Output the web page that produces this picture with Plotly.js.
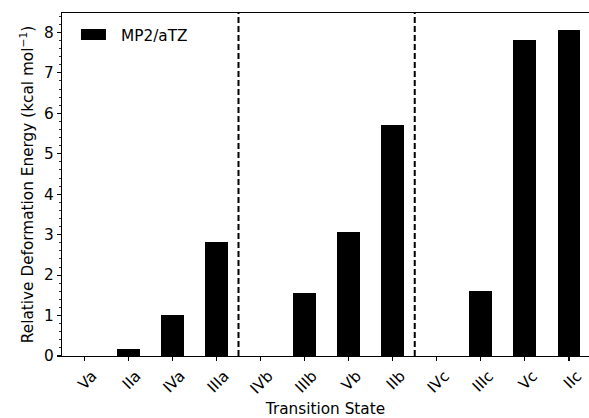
<!DOCTYPE html>
<html>
<head>
<meta charset="utf-8">
<script src="https://cdn.plot.ly/plotly-3.0.1.min.js"></script>
<style>html,body{margin:0;padding:0;background:#fff;}#chart{width:589px;height:418px;}</style>
</head>
<body>
<div id="chart"></div>
<script>
const categories = ["Va","IIa","IVa","IIIa","IVb","IIIb","Vb","IIb","IVc","IIIc","Vc","IIc"];
const energies = [0, 0.17, 1.01, 2.82, 0, 1.56, 3.06, 5.71, 0, 1.61, 7.81, 8.06];
const seriesName = "MP2/aTZ";
const dividers = [3.5, 7.5];
const yTicks = [0,1,2,3,4,5,6,7,8];

const xIdx = categories.map((c,i)=>i);
const font = {family: "DejaVu Sans, sans-serif", size: 15.3, color: "#000"};

const trace = {
  type: "bar",
  x: xIdx,
  y: energies,
  name: seriesName,
  width: 0.52,
  marker: {color: "#000", line: {width: 0}},
  showlegend: true
};

const shapes = dividers.map(d => ({
  type: "line", xref: "x", yref: "paper",
  x0: d, x1: d, y0: 0, y1: 1,
  line: {color: "#000", width: 2, dash: "6px,3px"}
}));

const layout = {
  width: 589, height: 418,
  margin: {l: 62, r: 0, t: 13, b: 62},
  paper_bgcolor: "#fff", plot_bgcolor: "#fff",
  font: font,
  showlegend: true,
  legend: {x: 0.036, y: 0.985, xanchor: "left", yanchor: "top", itemwidth: 30,
           bgcolor: "rgba(0,0,0,0)", borderwidth: 0, font: font},
  xaxis: {
    range: [-0.506, 11.455],
    tickmode: "array", tickvals: xIdx, ticktext: categories,
    tickangle: -45, ticklabelshift: 8,
    ticks: "outside", ticklen: 4, tickwidth: 1.1, tickcolor: "#000",
    showline: true, linecolor: "#000", linewidth: 1.1, mirror: true,
    showgrid: false, zeroline: false,
    tickfont: font,
    title: {text: "Transition State", font: font, standoff: 6}
  },
  yaxis: {
    range: [0, 8.48],
    tickmode: "array", tickvals: yTicks,
    ticks: "outside", ticklen: 4, tickwidth: 1.1, tickcolor: "#000",
    minor: {dtick: 0.2, ticks: "outside", ticklen: 2, tickwidth: 0.8, tickcolor: "#000", showgrid: false},
    showline: true, linecolor: "#000", linewidth: 1.1, mirror: false,
    showgrid: false, zeroline: false,
    tickfont: font,
    title: {text: "Relative Deformation Energy (kcal mol<sup>−1</sup>)", font: font, standoff: 6}
  },
  shapes: shapes,
  bargap: 0
};

Plotly.newPlot("chart", [trace], layout, {displayModeBar: false, staticPlot: true}).then(gd => {
  gd.querySelectorAll(".legend .legendpoints path").forEach(p => {
    p.setAttribute("d", "M-27,5.5H5V-5.5H-27Z");
  });
});
</script>
</body>
</html>
